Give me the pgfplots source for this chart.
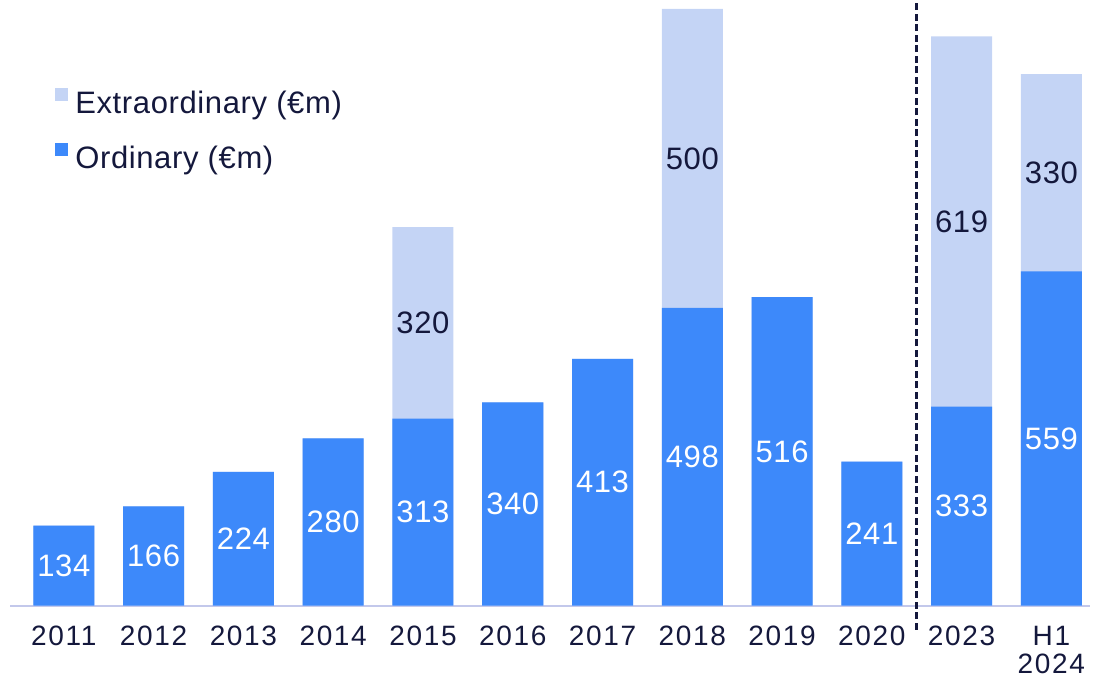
\documentclass[border=0pt]{standalone}
\usepackage{pgfplots}
\pgfplotsset{compat=1.18}
\usepackage{pgfplotstable}
\usepackage{fontspec}
\setmainfont{Liberation Sans}
\newfontfamily\tickfont[LetterSpace=6]{Liberation Sans}
\newfontfamily\legfont[LetterSpace=2]{Liberation Sans}
\definecolor{ordC}{RGB}{61,137,250}
\definecolor{extC}{RGB}{196,212,245}
\definecolor{navy}{RGB}{20,24,60}
\definecolor{lineC}{RGB}{195,200,235}

\pgfplotstableread{
x ord ext
0 134 0
1 166 0
2 224 0
3 280 0
4 313 320
5 340 0
6 413 0
7 498 500
8 516 0
9 241 0
10 333 619
11 559 330
}\datatable

\begin{document}
\begin{tikzpicture}
\begin{axis}[
  name=ax, scale only axis, width=1080pt, height=598pt,
  xmin=-0.6, xmax=11.43, ymin=0, ymax=1000,
  axis x line=bottom, axis y line=none,
  axis line style={-, draw=lineC, line width=2pt},
  xtick={0,...,11},
  xticklabels={2011,2012,2013,2014,2015,2016,2017,2018,2019,2020,2023,{H1\\2024}},
  major tick length=0pt,
  xticklabel style={align=center, font=\tickfont\fontsize{28}{28}\selectfont, text=navy, yshift=-17pt},
  clip=false,
  /pgf/number format/assume math mode=true,
  legend style={draw=none, fill=none, at={(rel axis cs:0.039,0.869)}, anchor=north west,
    font=\legfont\fontsize{31}{31}\selectfont, text=navy, row sep=26pt},
  legend cell align=left,
  sqleg/.style={legend image code/.code={\fill[##1] (0pt,2pt) rectangle (13pt,15pt); \path (18pt,2pt);}},
]
\addplot[ybar, bar width=0.68, bar shift=0pt, fill=extC, draw=none, sqleg]
  table[x=x, y expr=\thisrow{ord}+\thisrow{ext}] {\datatable};
\addlegendentry{Extraordinary (€m)}
\addplot[ybar, bar width=0.68, bar shift=0pt, fill=ordC, draw=none, sqleg]
  table[x=x, y=ord] {\datatable};
\addlegendentry{Ordinary (€m)}

\addplot[draw=none, mark=none, forget plot, point meta=explicit, nodes near coords,
  every node near coord/.append style={anchor=center, text=white, font=\legfont\fontsize{31}{31}\selectfont}]
  table[x=x, y expr=\thisrow{ord}/2, meta=ord] {\datatable};
\addplot[draw=none, mark=none, forget plot, point meta=explicit, nodes near coords,
  unbounded coords=discard,
  every node near coord/.append style={anchor=center, text=navy, font=\legfont\fontsize{31}{31}\selectfont}]
  table[x=x, y expr={\thisrow{ext}>0 ? \thisrow{ord}+\thisrow{ext}/2 : nan}, meta=ext] {\datatable};

\draw[navy, line width=3.5pt, dash pattern=on 7pt off 3.5pt] (axis cs:9.5,-40) -- (axis cs:9.5,1010);
\end{axis}
\path ([xshift=-10pt,yshift=-79pt]ax.south west) rectangle ([xshift=14pt,yshift=6pt]ax.north east);
\end{tikzpicture}
\end{document}
